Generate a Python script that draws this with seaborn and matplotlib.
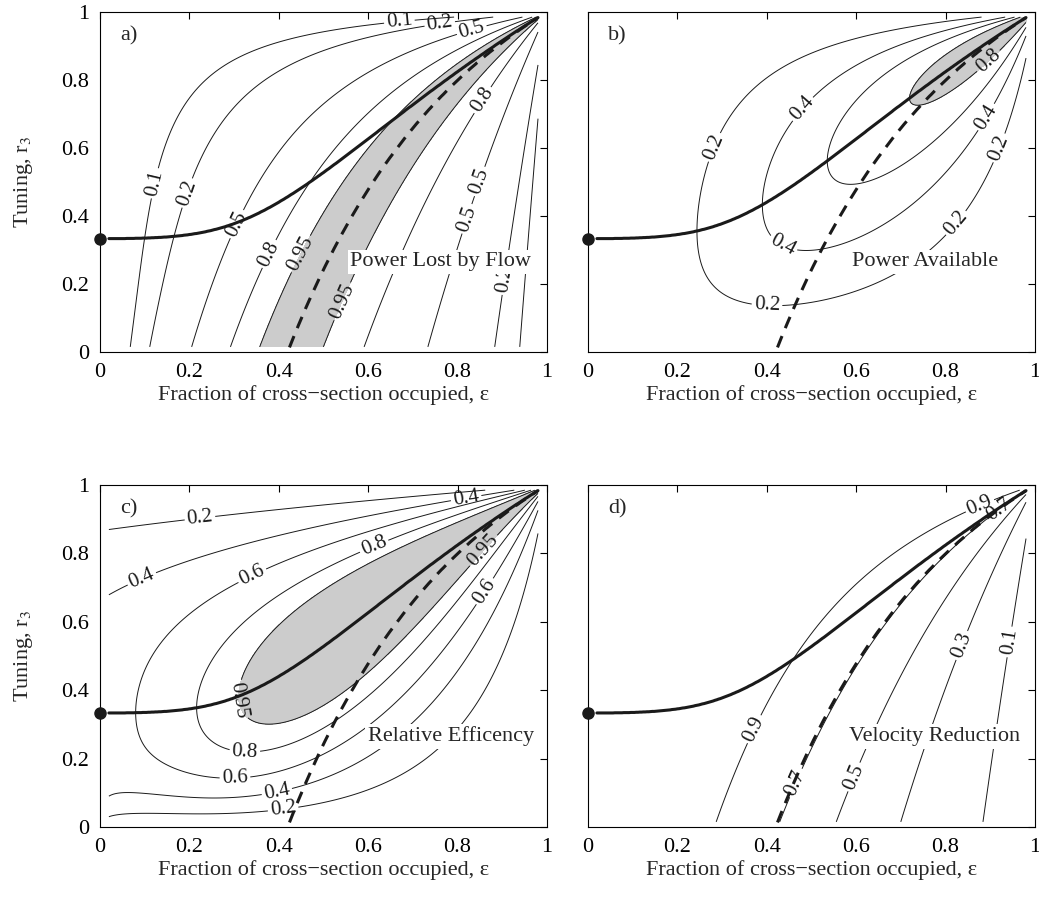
import numpy as np
import matplotlib
matplotlib.use('Agg')
import matplotlib.pyplot as plt
import seaborn as sns

# ---------------------------------------------------------------
# turbine fence in a tidal channel (r3 = wake / upstream velocity)
# ---------------------------------------------------------------
GAMMA = 0.417
REL_SCALE = 1.03     # scale of the relative efficiency panel

eps_grid = np.linspace(0.02, 0.98, 241)
r3_grid = np.linspace(0.015, 0.985, 243)

levels_lost = [0.1, 0.2, 0.5, 0.8, 0.95]
levels_avail = [0.2, 0.4, 0.6, 0.8]
levels_eff = [0.2, 0.4, 0.6, 0.8, 0.95]
levels_vel = [0.1, 0.3, 0.5, 0.7, 0.9]
shade_levels = [0.95, 0.8, 0.95, None]

panel_letters = ['a)', 'b)', 'c)', 'd)']
panel_titles = ['Power Lost by Flow', 'Power Available', 'Relative Efficency', 'Velocity Reduction']
title_x = [0.56, 0.59, 0.60, 0.585]
betz_eps = [0.0]
betz_r3 = [1 / 3]
tick_values = [0, 0.2, 0.4, 0.6, 0.8, 1]
tick_labels = ['0', '0.2', '0.4', '0.6', '0.8', '1']

# contour label spots (eps, r3)
labels_a = [(0.11, 0.50), (0.19, 0.47), (0.30, 0.38), (0.376, 0.29), (0.447, 0.29),
            (0.54, 0.15), (0.67, 0.97), (0.76, 0.967), (0.83, 0.955), (0.857, 0.74),
            (0.81, 0.52), (0.87, 0.37), (0.92, 0.21)]
labels_b = [(0.25, 0.62), (0.45, 0.75), (0.40, 0.12), (0.45, 0.35), (0.9, 0.85),
            (0.88, 0.7), (0.92, 0.6), (0.94, 0.25)]
labels_c = [(0.224, 0.90), (0.093, 0.728), (0.34, 0.737), (0.615, 0.816), (0.309, 0.371),
            (0.324, 0.219), (0.302, 0.146), (0.396, 0.102), (0.41, 0.05), (0.82, 0.956),
            (0.857, 0.81), (0.86, 0.69)]
labels_d = [(0.35, 0.3), (0.48, 0.12), (0.57, 0.16), (0.8, 0.55), (0.9, 0.55),
            (0.88, 0.93), (0.92, 0.93)]


def fence(eps, r3):
    d = eps * (1 - r3) ** 2 + r3 ** 2 * (1 - eps) ** 2
    u4 = (1 - r3 + np.sqrt(d)) / (1 - eps)
    a3 = (u4 - 1) / (u4 - r3)
    u2 = a3 * r3 / eps
    k = eps * (u4 ** 2 - r3 ** 2)
    g = GAMMA * k
    vel = np.sqrt(2 / (1 + np.sqrt(1 + 4 * g ** 2)))
    lost = 2 * g * vel ** 3
    avail = lost * u2
    return lost, avail, vel


E, R = np.meshgrid(eps_grid, r3_grid)
lost, avail, vel = fence(E, R)
eff = REL_SCALE * avail / E
fields = [lost, avail, eff, vel]
levels = [levels_lost, levels_avail, levels_eff, levels_vel]
label_spots = [labels_a, labels_b, labels_c, labels_d]

# best tuning lines
r3_fine = np.linspace(0.001, 0.999, 2000)
Ef, Rf = np.meshgrid(eps_grid, r3_fine)
lost_f, avail_f, _ = fence(Ef, Rf)
r3_best = r3_fine[np.argmax(avail_f, axis=0)]
i_lost = np.argmax(lost_f, axis=0)
ok = i_lost > 0
eps_dash = eps_grid[ok]
r3_dash = r3_fine[i_lost[ok]]

# ---------------------------------------------------------------
sns.set_theme(style='white')
plt.rcParams['font.family'] = ['Liberation Serif', 'DejaVu Serif']
plt.rcParams['mathtext.fontset'] = 'stix'
plt.rcParams['axes.edgecolor'] = 'black'
plt.rcParams['axes.linewidth'] = 0.8

fig = plt.figure(figsize=(10.39, 9.0), dpi=100)
boxes = [[0.0962, 0.6089, 0.4302, 0.3778], [0.5659, 0.6089, 0.4302, 0.3778],
         [0.0962, 0.0811, 0.4302, 0.3800], [0.5659, 0.0811, 0.4302, 0.3800]]

for i in range(4):
    ax = fig.add_axes(boxes[i])
    if shade_levels[i] is not None:
        ax.contourf(E, R, fields[i], levels=[shade_levels[i], 10], colors=['#cccccc'])
    cs = ax.contour(E, R, fields[i], levels=levels[i], colors='k', linewidths=0.7)
    ax.clabel(cs, fmt='%g', fontsize=15, inline=True, inline_spacing=3,
              manual=label_spots[i])
    sns.lineplot(x=eps_grid, y=r3_best, ax=ax, color='k', linewidth=2.2,
                 estimator=None, sort=False, legend=False)
    sns.lineplot(x=eps_dash, y=r3_dash, ax=ax, color='k', linewidth=2.2,
                 linestyle=(0, (4, 2.8)), estimator=None, sort=False, legend=False)
    ax.plot(betz_eps, betz_r3, 'o', color='k', markersize=8, clip_on=False, zorder=12)

    ax.text(0.045, 0.93, panel_letters[i], fontsize=16, ha='left', va='center',
            bbox=dict(fc='white', ec='none', pad=1), zorder=11)
    ax.text(title_x[i], 0.265, panel_titles[i], fontsize=16, ha='left', va='center',
            bbox=dict(fc='white', ec='none', pad=2), zorder=11)

    ax.set_xlim(0, 1)
    ax.set_ylim(0, 1)
    ax.set_xticks(tick_values)
    ax.set_yticks(tick_values)
    ax.set_xticklabels(tick_labels, fontsize=16)
    ax.tick_params(direction='in', top=True, right=True, length=5, width=0.8,
                   pad=8, colors='black')
    ax.set_xlabel('Fraction of cross\u2212section occupied, \u03b5', fontsize=16, labelpad=2)
    if i % 2 == 0:
        ax.set_yticklabels(tick_labels, fontsize=16)
        ax.set_ylabel('Tuning, r$_3$', fontsize=16, labelpad=19)
    else:
        ax.set_yticklabels([])
        ax.set_ylabel('')

fig.savefig('out.png', dpi=100)
